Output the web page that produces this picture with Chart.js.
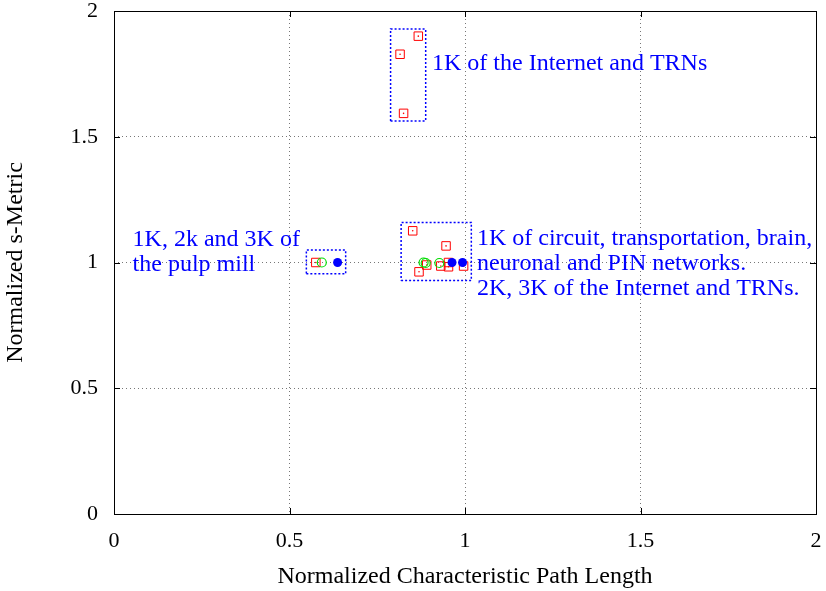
<!DOCTYPE html>
<html>
<head>
<meta charset="utf-8">
<script src="https://cdn.jsdelivr.net/npm/chart.js@4"></script>
<style>
	html, body { margin: 0; padding: 0; background: #fff; }
	#wrap { width: 826px; height: 591px; }
</style>
</head>
<body>
<div id="wrap"><canvas id="chart"></canvas></div>
<script>
// values
var squarePoints = [
	{x: 0.867, y: 1.900}, {x: 0.815, y: 1.828}, {x: 0.825, y: 1.593},
	{x: 0.575, y: 1.000},
	{x: 0.851, y: 1.126}, {x: 0.946, y: 1.066}, {x: 0.869, y: 0.963},
	{x: 0.891, y: 0.990}, {x: 0.931, y: 0.986}, {x: 0.953, y: 0.983},
	{x: 0.953, y: 1.000}, {x: 0.996, y: 0.986}
];
var circlePoints = [
	{x: 0.592, y: 1.0}, {x: 0.882, y: 1.0}, {x: 0.888, y: 0.998}, {x: 0.927, y: 0.998}
];
var dotPoints = [
	{x: 0.637, y: 1.0}, {x: 0.963, y: 1.0}, {x: 0.993, y: 1.0}
];
// dashed boxes: [xmin, xmax, ymin, ymax]
var boxes = [
	[0.788, 0.888, 1.563, 1.928],
	[0.548, 0.660, 0.955, 1.050],
	[0.818, 1.018, 0.928, 1.159]
];
var notes = [
	{x: 0.906, y: 1.765, lines: ["1K of the Internet and TRNs"]},
	{x: 0.053, y: 1.065, lines: ["1K, 2k and 3K of", "the pulp mill"]},
	{x: 1.034, y: 1.068, lines: ["1K of circuit, transportation, brain,", "neuronal and PIN networks.", "2K, 3K of the Internet and TRNs."]}
];
var tickValues = [0, 0.5, 1, 1.5, 2];

var font = "'Liberation Serif', 'DejaVu Serif', serif";

function boxData(b) {
	return [
		{x: b[0], y: b[2]}, {x: b[1], y: b[2]}, {x: b[1], y: b[3]},
		{x: b[0], y: b[3]}, {x: b[0], y: b[2]}
	];
}

var datasets = boxes.map(function(b) {
	return {
		type: "line",
		data: boxData(b),
		borderColor: "#0000ff",
		borderWidth: 1.5,
		borderDash: [2, 2],
		pointRadius: 0,
		fill: false,
		tension: 0,
		order: 5
	};
});
datasets.push({
	data: squarePoints,
	pointStyle: "rect",
	pointRadius: 6,
	pointBorderColor: "#ff0000",
	pointBackgroundColor: "rgba(0,0,0,0)",
	pointBorderWidth: 1,
	order: 3
});
datasets.push({
	data: squarePoints,
	pointStyle: "circle",
	pointRadius: 0.8,
	pointBorderWidth: 0,
	pointBackgroundColor: "#ff0000",
	order: 3
});
datasets.push({
	data: circlePoints,
	pointStyle: "circle",
	pointRadius: 4.5,
	pointBorderColor: "#00dd00",
	pointBackgroundColor: "rgba(0,0,0,0)",
	pointBorderWidth: 1.2,
	order: 2
});
datasets.push({
	data: dotPoints,
	pointStyle: "circle",
	pointRadius: 4.5,
	pointBorderWidth: 0,
	pointBackgroundColor: "#0000ff",
	order: 1
});

var framePlugin = {
	id: "frame",
	afterDatasetsDraw: function(chart) {
		var ctx = chart.ctx;
		var a = chart.chartArea;
		var xs = chart.scales.x, ys = chart.scales.y;
		ctx.save();
		ctx.strokeStyle = "#000";
		ctx.lineWidth = 1;
		ctx.strokeRect(a.left + 0.5, a.top + 0.5, a.right - a.left, a.bottom - a.top);
		// inward ticks on all four sides
		ctx.beginPath();
		tickValues.forEach(function(v) {
			var px = Math.round(xs.getPixelForValue(v)) + 0.5;
			var py = Math.round(ys.getPixelForValue(v)) + 0.5;
			ctx.moveTo(px, a.bottom); ctx.lineTo(px, a.bottom - 6);
			ctx.moveTo(px, a.top); ctx.lineTo(px, a.top + 6);
			ctx.moveTo(a.left, py); ctx.lineTo(a.left + 6, py);
			ctx.moveTo(a.right, py); ctx.lineTo(a.right - 6, py);
		});
		ctx.stroke();
		// notes
		ctx.fillStyle = "#0000ff";
		ctx.font = "24px " + font;
		ctx.textAlign = "left";
		ctx.textBaseline = "alphabetic";
		notes.forEach(function(n) {
			var px = xs.getPixelForValue(n.x);
			var py = ys.getPixelForValue(n.y);
			n.lines.forEach(function(s, i) {
				ctx.fillText(s, px, py + i * 25);
			});
		});
		ctx.restore();
	}
};

new Chart(document.getElementById("chart"), {
	type: "scatter",
	data: { datasets: datasets },
	plugins: [framePlugin],
	options: {
		responsive: true,
		maintainAspectRatio: false,
		animation: false,
		layout: { padding: { top: 11, right: 10, left: 0, bottom: 0 } },
		plugins: { legend: { display: false }, tooltip: { enabled: false } },
		scales: {
			x: {
				type: "linear",
				min: 0, max: 2,
				afterBuildTicks: function(s) { s.ticks = tickValues.map(function(v) { return {value: v}; }); },
				afterFit: function(s) { s.height = 77; s.paddingLeft = 0; s.paddingRight = 0; },
				grid: { color: "#777", lineWidth: 1, drawTicks: false },
				border: { display: false, dash: [1, 3] },
				ticks: {
					color: "#000", padding: 14,
					font: { family: font, size: 22 },
					callback: function(v) { return String(v); }
				},
				title: {
					display: true, text: "Normalized Characteristic Path Length",
					color: "#000", font: { family: font, size: 24 },
					padding: { top: 13, bottom: 0 }
				}
			},
			y: {
				type: "linear",
				min: 0, max: 2,
				afterBuildTicks: function(s) { s.ticks = tickValues.map(function(v) { return {value: v}; }); },
				afterFit: function(s) { s.width = 114; s.paddingTop = 0; s.paddingBottom = 0; },
				grid: { color: "#777", lineWidth: 1, drawTicks: false },
				border: { display: false, dash: [1, 3] },
				ticks: {
					color: "#000", padding: 16,
					font: { family: font, size: 22 },
					callback: function(v) { return String(v); }
				},
				title: {
					display: true, text: "Normalized s-Metric",
					color: "#000", font: { family: font, size: 24 },
					padding: { bottom: 0, top: 1 }
				}
			}
		}
	}
});
</script>
</body>
</html>
